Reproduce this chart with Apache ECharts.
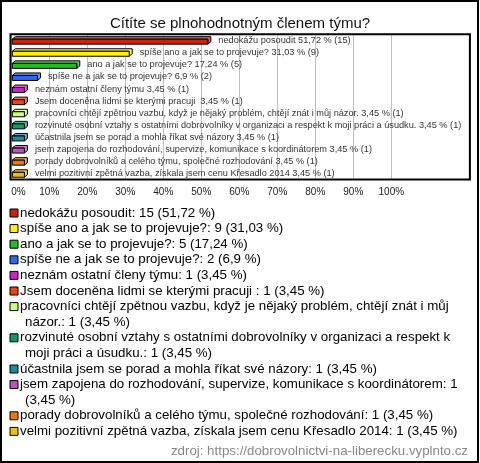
<!DOCTYPE html>
<html><head><meta charset="utf-8">
<script src="https://cdn.jsdelivr.net/npm/echarts@6/dist/echarts.min.js"></script>
<style>html,body{margin:0;padding:0;background:#fff}#c{width:480px;height:463px}</style>
</head><body><div id="c"></div>
<script>
const titleText = 'Cítíte se plnohodnotným členem týmu?';
const categories = [
  'nedokážu posoudit',
  'spíše ano a jak se to projevuje?',
  'ano a jak se to projevuje?',
  'spíše ne a jak se to projevuje?',
  'neznám ostatní členy týmu',
  'Jsem doceněna lidmi se kterými pracuji ',
  'pracovníci chtějí zpětnou vazbu, když je nějaký problém, chtějí znát i můj názor.',
  'rozvinuté osobní vztahy s ostatními dobrovolníky v organizaci a respekt k moji práci a úsudku.',
  'účastnila jsem se porad a mohla říkat své názory',
  'jsem zapojena do rozhodování, supervize, komunikace s koordinátorem',
  'porady dobrovolníků a celého týmu, společné rozhodování',
  'velmi pozitivní zpětná vazba, získala jsem cenu Křesadlo 2014'
];
const counts = [15, 9, 5, 2, 1, 1, 1, 1, 1, 1, 1, 1];
const percents = [51.72, 31.03, 17.24, 6.9, 3.45, 3.45, 3.45, 3.45, 3.45, 3.45, 3.45, 3.45];
const colors = ['#cc2211', '#ffee11', '#22bb22', '#3366ee', '#cc22cc', '#ee4411',
                '#ccff77', '#119966', '#228899', '#bb55bb', '#ee7711', '#eebb11'];
const xTicks = [0, 10, 20, 30, 40, 50, 60, 70, 80, 90, 100];
const sourceText = 'zdroj: https://dobrovolnictvi-na-liberecku.vyplnto.cz';

const fmtPct = p => String(p).replace('.', ',');
const FONT = '"Liberation Sans", Arial, sans-serif';

// legend layout (text wrapping measured with canvas)
const LEG_SIZE = 13.3, LEG_LH = 15.6, LEG_Y0 = 213, LEG_X = 20, LEG_X2 = 25, LEG_RIGHT = 467;
const mctx = document.createElement('canvas').getContext('2d');
mctx.font = LEG_SIZE + 'px ' + FONT;
function wrap(text) {
  const words = text.split(' ');
  const lines = [];
  let cur = '';
  let startX = LEG_X;
  words.forEach((w, k) => {
    const cand = k === 0 ? w : cur + ' ' + w;
    if (k > 0 && w !== '' && startX + mctx.measureText(cand).width > LEG_RIGHT) {
      lines.push(cur);
      cur = w;
      startX = LEG_X2;
    } else cur = cand;
  });
  lines.push(cur);
  return lines;
}
const graphics = [];
let line = 0;
categories.forEach((name, i) => {
  const txt = name + ': ' + counts[i] + ' (' + fmtPct(percents[i]) + ' %)';
  const lines = wrap(txt);
  const cy = LEG_Y0 + line * LEG_LH;
  graphics.push({type: 'rect', shape: {x: 10, y: cy - 4, width: 8, height: 8},
    style: {fill: colors[i], stroke: '#000', lineWidth: 1}});
  lines.forEach((l, k) => {
    graphics.push({type: 'text', x: k === 0 ? LEG_X : LEG_X2, y: LEG_Y0 + (line + k) * LEG_LH,
      style: {text: l, font: LEG_SIZE + 'px ' + FONT, fill: '#000', verticalAlign: 'middle'}});
  });
  line += lines.length;
});
graphics.push({type: 'rect', shape: {x: 1, y: 1, width: 477, height: 461}, style: {fill: null, stroke: '#000', lineWidth: 2}, z: 100});
graphics.push({type: 'rect', shape: {x: 10.5, y: 34.3, width: 459.4, height: 145.2}, style: {fill: null, stroke: '#000', lineWidth: 2}, z: 100});
graphics.push({type: 'text', x: 468, y: 451, style: {text: sourceText, font: '13.3px ' + FONT, fill: '#888', align: 'right', verticalAlign: 'middle'}});

const chart = echarts.init(document.getElementById('c'), null, {renderer: 'canvas'});
chart.setOption({
  animation: false,
  backgroundColor: '#fff',
  title: {text: titleText, left: 'center', top: 11, textStyle: {fontFamily: FONT, fontSize: 15, fontWeight: 'normal', color: '#111'}},
  grid: {left: 11.3, top: 34.3, width: 380, height: 145.2, containLabel: false},
  xAxis: {
    type: 'value', min: xTicks[0], max: xTicks[xTicks.length - 1], interval: xTicks[1] - xTicks[0],
    axisLine: {show: false}, axisTick: {show: false},
    splitLine: {show: true, lineStyle: {color: '#c0c0c0', width: 1}},
    axisLabel: {formatter: v => v + '%', fontFamily: FONT, fontSize: 10, color: '#222', margin: 8, alignMinLabel: 'left'}
  },
  yAxis: {type: 'category', data: categories, inverse: true, show: false},
  graphic: graphics,
  series: [{
    type: 'custom',
    clip: false,
    encode: {x: 0, y: 1},
    data: categories.map((c, i) => [percents[i], i]),
    renderItem: function (params, api) {
      const i = api.value(1), v = api.value(0);
      const s = api.coord([0, i]), e = api.coord([v, i]);
      const c = s[1];
      const x0 = s[0] + 1, w = e[0] - s[0] - 1;
      const col = colors[i];
      const dark = echarts.color.lift(col, 0.3);
      const top = c - 1.2, h = 5, dx = 3, dy = 2.5;
      const label = categories[i] + ' ' + fmtPct(percents[i]) + ' % (' + counts[i] + ')';
      return {type: 'group', children: [
        {type: 'polygon', shape: {points: [[x0, top], [x0 + dx, top - dy], [x0 + w + dx, top - dy], [x0 + w + dx, top + h - dy], [x0 + w, top + h], [x0 + w, top]]},
          style: {fill: dark, stroke: '#000', lineWidth: 1}},
        {type: 'rect', shape: {x: x0, y: top, width: w, height: h}, style: {fill: col, stroke: '#000', lineWidth: 1}},
        {type: 'text', x: e[0] + 10.5, y: c + 0.3, style: {text: label, font: '9.2px ' + FONT, fill: '#333', verticalAlign: 'middle'}}
      ]};
    }
  }]
});
</script></body></html>
